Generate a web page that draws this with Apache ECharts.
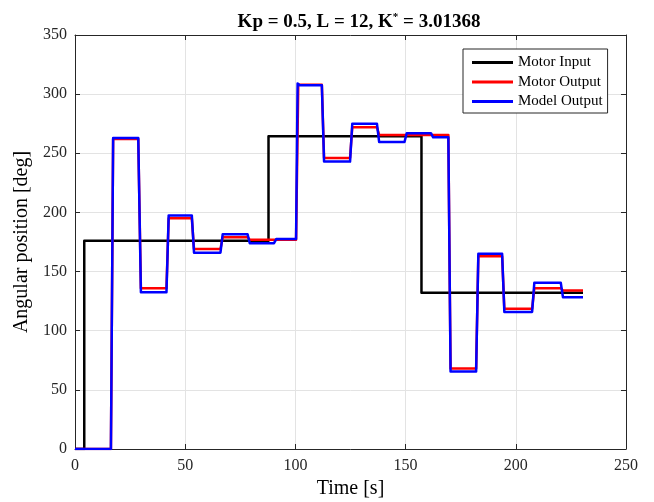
<!DOCTYPE html>
<html>
<head>
<meta charset="utf-8">
<script src="https://cdn.jsdelivr.net/npm/echarts@6/dist/echarts.min.js"></script>
<style>html,body{margin:0;padding:0;background:#fff}#c{width:654px;height:502px}</style>
</head>
<body>
<div id="c"></div>
<script>
// Data: [time, angle] pairs
const motorInput = [[0,0],[4.2,0],[4.2,176],[87.8,176],[87.8,264.5],[157.2,264.5],[157.2,132],[230.5,132]];
const motorOutput = [[0,0],[16.3,0],[17.3,262],[28.7,262],[29.9,136],[41.5,136],[42.5,195],[53,195],[54,169],[66,169],[67,179],[78.3,179],[79.3,177],[100.3,177],[101.3,308],[112,308],[113,246],[124.8,246],[125.8,272],[137,272],[138,265.5],[169.4,265.5],[170.4,68],[182,68],[183,163],[193.8,163],[194.8,118.5],[207.4,118.5],[208.4,136],[220.4,136],[221.4,134],[230.5,134]];
const modelOutput = [[0,0],[16.3,0],[17.3,263],[28.7,263],[29.9,132.5],[41.5,132.5],[42.5,197.5],[53,197.5],[54,166],[66,166],[67,181.5],[78.3,181.5],[79.3,174],[90.3,174],[91.3,177.5],[100.3,177.5],[101,309],[102,307.5],[112,307.5],[113,243],[124.8,243],[125.8,275],[137,275],[138,259.5],[149.5,259.5],[150.5,267],[161.5,267],[162.5,263.5],[169.4,263.5],[170.4,65.5],[182,65.5],[183,165],[193.8,165],[194.8,115.8],[207.4,115.8],[208.4,140.5],[220.4,140.5],[221.4,128.3],[230.5,128.3]];
const seriesNames = ['Motor Input','Motor Output','Model Output'];
const xTicks = {min:0, max:250, interval:50};
const yTicks = {min:0, max:350, interval:50};

const font = 'Liberation Serif';
const axisColor = '#262626';
const chart = echarts.init(document.getElementById('c'), null, {renderer:'canvas'});
const hiddenAxis = (pos, t) => ({
  type:'value', position:pos, min:t.min, max:t.max, interval:t.interval,
  axisLine:{show:true, onZero:false, lineStyle:{color:axisColor, width:1}},
  axisTick:{show:true, inside:true, length:5, lineStyle:{color:axisColor}},
  axisLabel:{show:false}, splitLine:{show:false}
});
chart.setOption({
  animation:false,
  backgroundColor:'#fff',
  title:{
    text:'Kp = 0.5, L = 12, K{sup|*} = 3.01368',
    left:354, top:7, textAlign:'center',
    textStyle:{fontFamily:font, fontSize:19, fontWeight:'bold', color:'#000',
      rich:{sup:{fontFamily:font, fontSize:11, fontWeight:'bold', verticalAlign:'top', padding:[0,0,9,0], color:'#000'}}}
  },
  legend:{
    data:seriesNames,
    orient:'vertical', left:463, top:49,
    backgroundColor:'#fff', borderColor:'#262626', borderWidth:1,
    padding:[6,5,4,9], itemGap:4.5, itemWidth:41, itemHeight:3, icon:'rect',
    textStyle:{fontFamily:font, fontSize:15, color:'#000', lineHeight:15}
  },
  grid:{left:75, right:28, top:35, bottom:53, containLabel:false, outerBoundsMode:'none'},
  xAxis:[{
    type:'value', min:xTicks.min, max:xTicks.max, interval:xTicks.interval,
    name:'Time [s]', nameLocation:'middle', nameGap:30,
    nameTextStyle:{fontFamily:font, fontSize:20, color:'#000'},
    axisLine:{show:true, onZero:false, lineStyle:{color:axisColor, width:1}},
    axisTick:{show:true, inside:true, length:5, lineStyle:{color:axisColor}},
    axisLabel:{fontFamily:font, fontSize:16, color:'#262626', margin:9},
    splitLine:{show:true, lineStyle:{color:'#e3e3e3', width:1}}
  }, hiddenAxis('top', xTicks)],
  yAxis:[{
    type:'value', min:yTicks.min, max:yTicks.max, interval:yTicks.interval,
    name:'Angular position [deg]', nameLocation:'middle', nameGap:42,
    nameTextStyle:{fontFamily:font, fontSize:20, color:'#000'},
    axisLine:{show:true, onZero:false, lineStyle:{color:axisColor, width:1}},
    axisTick:{show:true, inside:true, length:5, lineStyle:{color:axisColor}},
    axisLabel:{fontFamily:font, fontSize:16, color:'#262626', margin:8},
    splitLine:{show:true, lineStyle:{color:'#e3e3e3', width:1}}
  }, hiddenAxis('right', yTicks)],
  series:[
    {name:seriesNames[0], type:'line', data:motorInput, showSymbol:false, symbol:'none', color:'#000000',
     lineStyle:{width:2.5, color:'#000000', join:'round'}, z:2},
    {name:seriesNames[1], type:'line', data:motorOutput, showSymbol:false, symbol:'none', color:'#ff0000',
     lineStyle:{width:2.5, color:'#ff0000', join:'round'}, z:3},
    {name:seriesNames[2], type:'line', data:modelOutput, showSymbol:false, symbol:'none', color:'#0000ff',
     lineStyle:{width:2.5, color:'#0000ff', join:'round'}, z:4}
  ]
});
</script>
</body>
</html>
